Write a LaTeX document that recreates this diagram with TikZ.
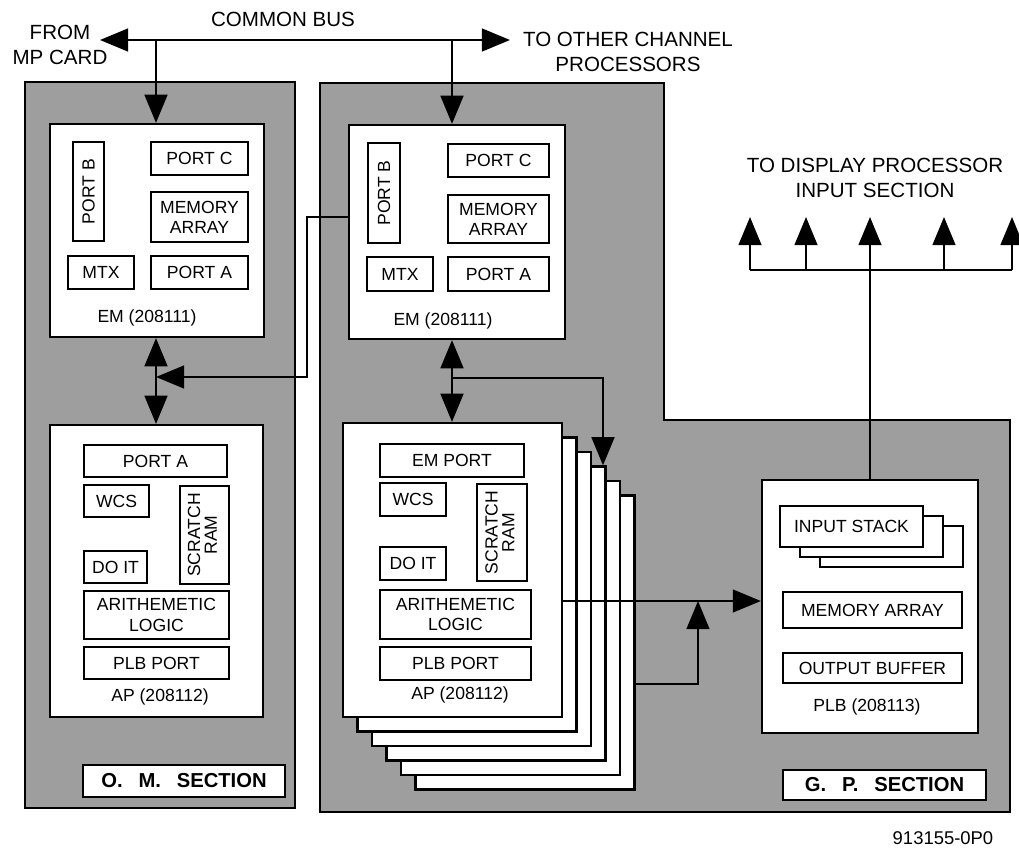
\documentclass[tikz,border=0pt]{standalone}
\usepackage{fontspec}
\setmainfont{Liberation Sans}
\usepackage{tikz}
\usetikzlibrary{arrows.meta, positioning}

\begin{document}
\begin{tikzpicture}[
    x=0.02cm, y=-0.02cm,
    font=\fontsize{10}{11.5}\selectfont,
    section/.style={draw, line width=1.5pt, fill=black!38},
    spanbox/.style n args={4}{at={({((#1)+(#3))/2},{((#2)+(#4))/2})},
                   minimum width={((#3)-(#1))*0.02cm}, minimum height={((#4)-(#2))*0.02cm}},
    card/.style={draw, line width=1.3pt, fill=white, inner sep=0pt},
    part/.style={draw, line width=1.2pt, fill=white, inner sep=0pt, align=center},
    seclab/.style={draw, line width=1.3pt, fill=white, inner sep=0pt,
                   font=\fontsize{11.5}{13}\selectfont\bfseries},
    toplab/.style={align=center, font=\fontsize{11.7}{14.5}\selectfont},
    arr/.style={-{Triangle[length=16pt, width=13pt]}, line width=1.1pt},
    dbl/.style={{Triangle[length=16pt, width=13pt]}-{Triangle[length=16pt, width=13pt]}, line width=1.1pt},
    lnk/.style={line width=1.1pt}
]

\useasboundingbox (0,0) rectangle (1019,852);

% shaded sections
\draw[section] (25,82) rectangle (295,808);
\draw[section] (320,83) -- (664,83) -- (664,420) -- (1010,420) -- (1010,812) -- (320,812) -- cycle;

% O. M. section
\node[card, spanbox={50}{124}{264}{337}] (lem) {};
\node[part, spanbox={73}{142}{104}{241}] (lportb) {\rotatebox{90}{PORT B}};
\node[part, spanbox={151}{142}{248}{175}] (lportc) {PORT C};
\node[part, spanbox={151}{192}{248}{242}] (lmem) {MEMORY\\ARRAY};
\node[part, spanbox={68}{256}{134}{289}] (lmtx) {MTX};
\node[part, spanbox={151}{256}{248}{289}] (lporta) {PORT A};
\node (lemlab) at (147,318) {EM (208111)};

\node[card, spanbox={50}{425}{263}{717}] (lap) {};
\node[part, spanbox={84}{445}{227}{477}] (lapport) {PORT A};
\node[part, spanbox={84}{485}{149}{517}] (lwcs) {WCS};
\node[part, spanbox={180}{486}{229}{584}] (lscr) {\rotatebox{90}{\begin{tabular}{@{}c@{}}SCRATCH\\[-2pt]RAM\end{tabular}}};
\node[part, spanbox={84}{551}{147}{583}] (ldoit) {DO IT};
\node[part, spanbox={84}{591}{229}{639}] (lalu) {ARITHEMETIC\\LOGIC};
\node[part, spanbox={84}{647}{229}{679}] (lplbport) {PLB PORT};
\node (laplab) at (160,697) {AP (208112)};

\node[seclab, spanbox={83}{765}{285}{797}] (omlab) {O.\hspace{9pt}M.\hspace{9pt}SECTION};

% G. P. section
\node[card, spanbox={349}{125}{565}{339}] (rem) {};
\node[part, spanbox={368}{143}{400}{243}] (rportb) {\rotatebox{90}{PORT B}};
\node[part, spanbox={448}{144}{549}{177}] (rportc) {PORT C};
\node[part, spanbox={448}{195}{549}{243}] (rmem) {MEMORY\\ARRAY};
\node[part, spanbox={367}{257}{433}{291}] (rmtx) {MTX};
\node[part, spanbox={448}{257}{549}{291}] (rporta) {PORT A};
\node (remlab) at (443,321) {EM (208111)};

\foreach \k in {5,4,...,0}
  \node[card, spanbox={343+14.5*\k}{423+14.5*\k}{562+14.5*\k}{717+14.5*\k}] (ap\k) {};
\node[part, spanbox={380}{444}{524}{477}] (remport) {EM PORT};
\node[part, spanbox={380}{483}{446}{516}] (rwcs) {WCS};
\node[part, spanbox={477}{484}{527}{581}] (rscr) {\rotatebox{90}{\begin{tabular}{@{}c@{}}SCRATCH\\[-2pt]RAM\end{tabular}}};
\node[part, spanbox={380}{547}{446}{580}] (rdoit) {DO IT};
\node[part, spanbox={380}{590}{531}{639}] (ralu) {ARITHEMETIC\\LOGIC};
\node[part, spanbox={380}{647}{531}{680}] (rplbport) {PLB PORT};
\node (raplab) at (460,695) {AP (208112)};

\node[card, spanbox={762}{480}{978}{733}] (plb) {};
\foreach \k in {2,1,0}
  \node[part, spanbox={780+20*\k}{506+10*\k}{923+20*\k}{547+10*\k}] (stk\k) {};
\node (stklab) at (stk0.center) {INPUT STACK};
\node[part, spanbox={783}{592}{962}{628}] (plbmem) {MEMORY ARRAY};
\node[part, spanbox={783}{653}{962}{683}] (plbout) {OUTPUT BUFFER};
\node (plblab) at (867,707) {PLB (208113)};

\node[seclab, spanbox={783}{770}{986}{800}] (gplab) {G.\hspace{9pt}P.\hspace{9pt}SECTION};

% labels
\node[toplab] (buslab) at (283,19) {COMMON BUS};
\node[toplab] (mplab) at (60,45) {FROM\\MP CARD};
\node[toplab] (chlab) at (628,52) {TO OTHER CHANNEL\\PROCESSORS};
\node[toplab] (dplab) at (875,178) {TO DISPLAY PROCESSOR\\INPUT SECTION};
\node[font=\fontsize{10.5}{12}\selectfont] (figno) at (943,838) {913155-0P0};

% common bus
\coordinate (busw) at (100,40);
\coordinate (buse) at (510,40);
\coordinate (ldrop) at (156,40);
\coordinate (rdrop) at (452,40);
\draw[dbl] (busw) -- (buse);
\draw[arr] (ldrop) -- (ldrop |- lem.north);
\draw[arr] (rdrop) -- (rdrop |- rem.north);

% EM <-> AP
\draw[dbl] (ldrop |- lem.south) -- (ldrop |- lap.north);
\draw[dbl] (rdrop |- rem.south) -- (rdrop |- ap0.north);

% cross link to O. M. section
\coordinate (xtop) at (307,217);
\coordinate (xbot) at (307,377);
\draw[arr] (rem.west |- xtop) -- (xtop) -- (xbot) -- (ldrop |- xbot);

% EM --> stacked AP
\coordinate (rjoin) at (603,378);
\draw[arr] (rdrop |- rjoin) -- (rjoin) -- (rjoin |- ap3.north);

% AP --> PLB
\coordinate (apout) at (0,601);
\coordinate (aback) at (698,684);
\draw[arr] (ap0.east |- apout) -- (plb.west |- apout);
\draw[arr] (ap5.east |- aback) -- (aback) -- (aback |- apout);

% PLB --> display processor
\foreach \x [count=\i] in {750,806,870,944,1012}{
  \coordinate (dpin\i) at (\x,270);
  \coordinate (dpout\i) at (\x,217);
  \draw[arr] (dpin\i) -- (dpout\i);
}
\draw[lnk] (dpin1) -- (dpin5);
\draw[lnk] (plb.north) -- (plb.north |- dpin1);

\end{tikzpicture}
\end{document}
